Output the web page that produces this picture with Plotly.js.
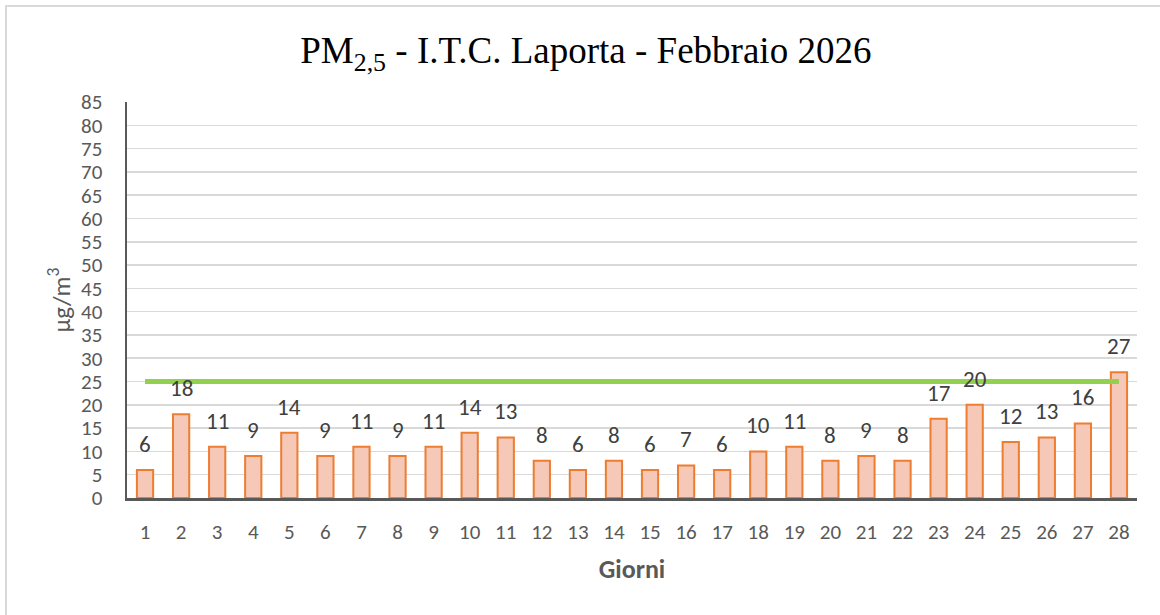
<!DOCTYPE html>
<html>
<head>
<meta charset="utf-8">
<script src="https://cdn.plot.ly/plotly-3.0.1.min.js"></script>
<style>html,body{margin:0;padding:0;background:#fff;}#chart{width:1160px;height:615px;}</style>
</head>
<body>
<div id="chart"></div>
<script>
const days = ['1','2','3','4','5','6','7','8','9','10','11','12','13','14','15','16','17','18','19','20','21','22','23','24','25','26','27','28'];
const pm25 = [6,18,11,9,14,9,11,9,11,14,13,8,6,8,6,7,6,10,11,8,9,8,17,20,12,13,16,27];
const limit = [25,25,25,25,25,25,25,25,25,25,25,25,25,25,25,25,25,25,25,25,25,25,25,25,25,25,25,25];
const yTicks = [0,5,10,15,20,25,30,35,40,45,50,55,60,65,70,75,80,85];

const FONT = "Calibri, Carlito, 'Open Sans', 'Liberation Sans', sans-serif";

const traces = [
  {
    type: 'bar', x: days, y: pm25,
    marker: {color: '#F5C8B8', line: {color: '#ED7D31', width: 2}},
    hoverinfo: 'x+y', showlegend: false
  },
  {
    type: 'scatter', mode: 'lines', x: days, y: limit,
    line: {color: '#92D050', width: 5},
    showlegend: false, hoverinfo: 'y'
  }
];

const annotations = days.map((d, i) => ({
  x: i, y: pm25[i], xref: 'x', yref: 'y',
  text: String(pm25[i]), showarrow: false,
  yanchor: 'bottom', yshift: 10,
  font: {family: FONT, size: 23, color: '#404040'}
}));

const W = 1010, H = 396;
const layout = {
  width: 1160, height: 615,
  margin: {l: 127, r: 23, t: 102, b: 117},
  paper_bgcolor: '#ffffff', plot_bgcolor: '#ffffff',
  bargap: 0.55,
  title: {
    text: 'PM<sub>2,5</sub> - I.T.C. Laporta - Febbraio 2026',
    x: 0.505, xanchor: 'center', y: 0.918, yanchor: 'middle',
    font: {family: "'Times New Roman', 'Liberation Serif', serif", size: 37, color: '#000000'}
  },
  xaxis: {
    type: 'category',
    range: [-0.5, 27.5],
    showgrid: false, zeroline: false,
    showline: true, linecolor: '#595959', linewidth: 2.5,
    ticks: '', ticklabelstandoff: 13,
    tickfont: {family: FONT, size: 21, color: '#595959'},
    title: {text: '<b>Giorni</b>', standoff: 16, font: {family: FONT, size: 26, color: '#595959'}},
    fixedrange: true
  },
  yaxis: {
    range: [0, 85],
    tickvals: yTicks, ticktext: yTicks.map(String),
    showgrid: true, gridcolor: '#d9d9d9', gridwidth: 1.5,
    zeroline: false,
    showline: true, linecolor: '#595959', linewidth: 2.5,
    ticks: '', ticklabelstandoff: 18,
    tickfont: {family: FONT, size: 21, color: '#595959'},
    title: {text: 'µg/m<sup>3</sup>', standoff: 4, font: {family: FONT, size: 25, color: '#595959'}},
    fixedrange: true
  },
  annotations: annotations,
  shapes: [{
    type: 'rect', xref: 'paper', yref: 'paper',
    x0: (6 - 127) / W, x1: (1200 - 127) / W,
    y0: (498 - 660) / H, y1: (498 - 6) / H,
    line: {color: '#d9d9d9', width: 2}, fillcolor: 'rgba(0,0,0,0)', layer: 'below'
  }]
};

Plotly.newPlot('chart', traces, layout, {displayModeBar: false, staticPlot: true});
</script>
</body>
</html>
